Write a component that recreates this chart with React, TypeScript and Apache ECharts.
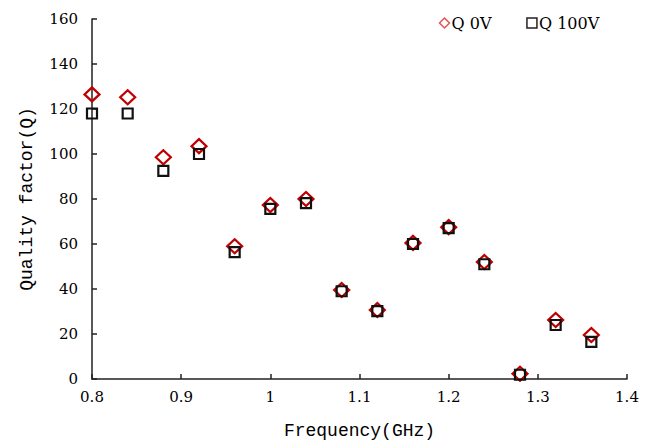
import React, { useEffect, useRef } from "react";
import * as echarts from "echarts";

const frequencies = [0.8, 0.84, 0.88, 0.92, 0.96, 1.0, 1.04, 1.08, 1.12, 1.16, 1.2, 1.24, 1.28, 1.32, 1.36];
const q0V = [126.5, 125.2, 98.6, 103.5, 59.0, 77.3, 80.0, 39.6, 30.7, 60.5, 67.5, 52.0, 2.3, 26.2, 19.6];
const q100V = [118.0, 118.0, 92.5, 100.0, 56.4, 75.6, 78.2, 39.0, 30.2, 60.0, 67.1, 51.0, 1.9, 24.0, 16.5];
const seriesNames = ["Q 0V", "Q 100V"];
const xTicks = { min: 0.8, max: 1.4, interval: 0.1 };
const yTicks = { min: 0, max: 160, interval: 20 };

const MONO = "'Liberation Mono', 'DejaVu Sans Mono', monospace";
const SERIF = "'DejaVu Serif', 'Liberation Serif', serif";

export default function App() {
  const ref = useRef<HTMLDivElement>(null);
  useEffect(() => {
    if (!ref.current) return;
    const chart = echarts.init(ref.current, undefined, { renderer: "svg" });
    const axisLine = { show: true, lineStyle: { color: "#222", width: 1.5 } };
    chart.setOption({
      animation: false,
      backgroundColor: "#fff",
      grid: { left: 92, right: 24, top: 19, bottom: 63, containLabel: false, outerBoundsMode: "none" },
      legend: {
        top: 10,
        left: 432,
        itemGap: 33,
        itemWidth: 10,
        itemHeight: 10,
        textStyle: { fontFamily: SERIF, fontSize: 16, color: "#000", padding: [0, 0, 0, -3] },
        data: [
          { name: seriesNames[0], icon: "diamond", itemStyle: { color: "none", borderColor: "#e05555", borderWidth: 1.5 } },
          { name: seriesNames[1], icon: "rect", itemStyle: { color: "none", borderColor: "#222", borderWidth: 1.5 } },
        ],
      },
      xAxis: {
        type: "value",
        min: xTicks.min,
        max: xTicks.max,
        interval: xTicks.interval,
        name: "Frequency(GHz)",
        nameLocation: "middle",
        nameGap: 43,
        nameTextStyle: { fontFamily: MONO, fontSize: 18, color: "#000" },
        axisLine,
        axisTick: { show: true, inside: true, length: 5, lineStyle: { color: "#222", width: 1.5 } },
        splitLine: { show: false },
        axisLabel: {
          fontFamily: SERIF,
          fontSize: 15,
          color: "#000",
          margin: 10,
          formatter: (v: number) => String(Math.round(v * 10) / 10),
        },
      },
      yAxis: {
        type: "value",
        min: yTicks.min,
        max: yTicks.max,
        interval: yTicks.interval,
        name: "Quality factor(Q)",
        nameLocation: "middle",
        nameGap: 56,
        nameTextStyle: { fontFamily: MONO, fontSize: 18, color: "#000" },
        axisLine,
        axisTick: { show: true, inside: true, length: 5, lineStyle: { color: "#222", width: 1.5 } },
        splitLine: { show: false },
        axisLabel: { fontFamily: SERIF, fontSize: 15, color: "#000", margin: 14 },
      },
      series: [
        {
          name: seriesNames[0],
          type: "scatter",
          symbol: "diamond",
          symbolSize: [15, 14],
          itemStyle: { color: "none", borderColor: "#c00000", borderWidth: 2.2, opacity: 1 },
          data: frequencies.map((f, i) => [f, q0V[i]]),
          z: 2,
        },
        {
          name: seriesNames[1],
          type: "scatter",
          symbol: "rect",
          symbolSize: 10,
          itemStyle: { color: "none", borderColor: "#111", borderWidth: 2.2, opacity: 1 },
          data: frequencies.map((f, i) => [f, q100V[i]]),
          z: 3,
        },
      ],
    });
    return () => chart.dispose();
  }, []);
  return <div ref={ref} style={{ width: 651, height: 442, position: "absolute", left: 0, top: 0 }} />;
}
